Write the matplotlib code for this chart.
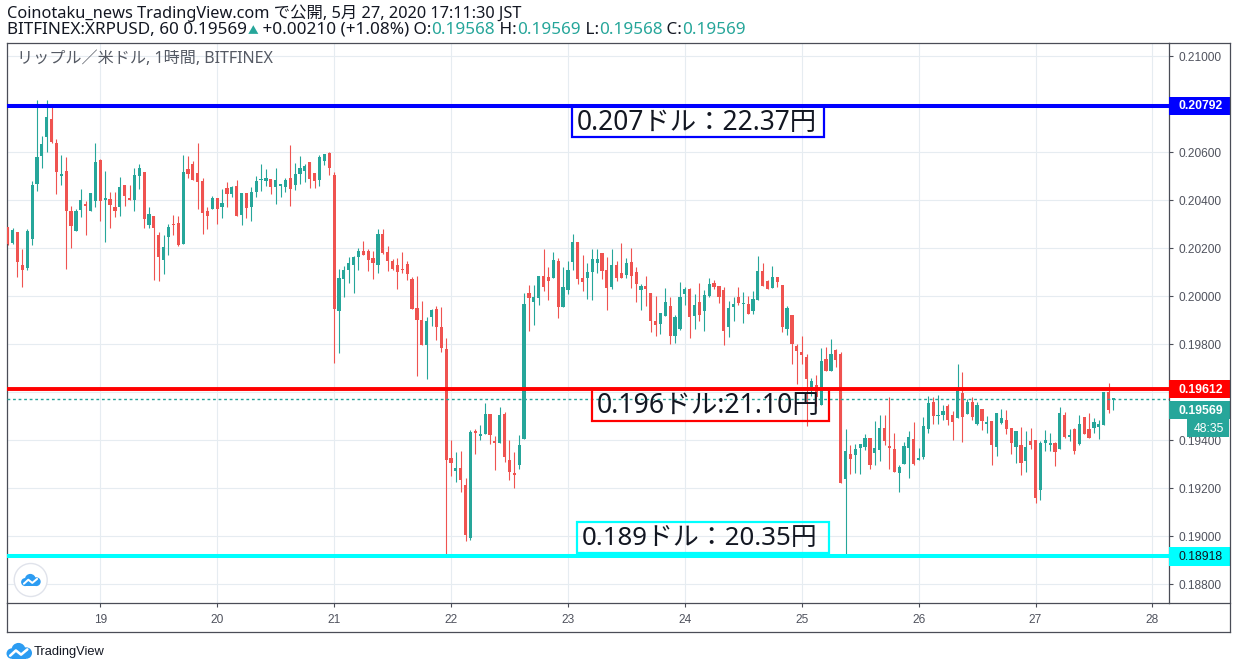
import numpy as np
import pandas as pd
import matplotlib
matplotlib.use("Agg")
import matplotlib.pyplot as plt
import matplotlib.dates as mdates
from matplotlib.patches import Rectangle, Circle

# ---------------- data (XRP/USD, Bitfinex, 1h) ----------------
start_time = "2020-05-18 05:00"

opens = [
    0.20289, 0.20222, 0.20268, 0.20131, 0.20118, 0.20236, 0.20467, 0.20582, 0.20661, 0.20739,
    0.20639, 0.20499, 0.20522, 0.20356, 0.20269, 0.20357, 0.20385, 0.20353, 0.20394, 0.20568,
    0.20401, 0.20406, 0.20372, 0.20369, 0.20464, 0.20410, 0.20399, 0.20499, 0.20518, 0.20294,
    0.20335, 0.20253, 0.20149, 0.20244, 0.20301, 0.20306, 0.20215, 0.20531, 0.20551, 0.20514,
    0.20481, 0.20356, 0.20361, 0.20410, 0.20369, 0.20451, 0.20424, 0.20460, 0.20336, 0.20431,
    0.20369, 0.20432, 0.20482, 0.20478, 0.20489, 0.20453, 0.20457, 0.20453, 0.20493, 0.20461,
    0.20507, 0.20519, 0.20560, 0.20514, 0.20482, 0.20564, 0.20597, 0.20506, 0.19936, 0.20069,
    0.20107, 0.20128, 0.20161, 0.20189, 0.20189, 0.20160, 0.20128, 0.20260, 0.20185, 0.20147,
    0.20131, 0.20114, 0.20135, 0.20072, 0.19951, 0.19901, 0.19797, 0.19911, 0.19947, 0.19872,
    0.19781, 0.19326, 0.19269, 0.19285, 0.19214, 0.18990, 0.19439, 0.19415, 0.19426, 0.19510,
    0.19397, 0.19386, 0.19510, 0.19318, 0.19261, 0.19294, 0.19406, 0.20014, 0.19974, 0.19993,
    0.20085, 0.20081, 0.20076, 0.20147, 0.19953, 0.20026, 0.20143, 0.20226, 0.20076, 0.20076,
    0.20099, 0.20136, 0.20181, 0.20110, 0.20037, 0.20131, 0.20097, 0.20089, 0.20143, 0.20101,
    0.20026, 0.20043, 0.20014, 0.19897, 0.19885, 0.19918, 0.19960, 0.19835, 0.19864, 0.20010,
    0.20031, 0.19918, 0.19976, 0.19939, 0.20001, 0.20056, 0.20043, 0.20026, 0.19872, 0.19956,
    0.19997, 0.19965, 0.19967, 0.19938, 0.19985, 0.20104, 0.20063, 0.20035, 0.20079, 0.20046,
    0.19862, 0.19921, 0.19792, 0.19767, 0.19746, 0.19622, 0.19631, 0.19547, 0.19737, 0.19689,
    0.19775, 0.19758, 0.19237, 0.19342, 0.19339, 0.19368, 0.19372, 0.19408, 0.19347, 0.19360,
    0.19450, 0.19375, 0.19362, 0.19264, 0.19301, 0.19368, 0.19404, 0.19318, 0.19328, 0.19446,
    0.19560, 0.19501, 0.19506, 0.19542, 0.19504, 0.19492, 0.19597, 0.19508, 0.19558, 0.19467,
    0.19529, 0.19468, 0.19479, 0.19371, 0.19471, 0.19483, 0.19450, 0.19371, 0.19379, 0.19313,
    0.19396, 0.19400, 0.19192, 0.19388, 0.19379, 0.19388, 0.19363, 0.19504, 0.19413, 0.19446,
    0.19383, 0.19496, 0.19446, 0.19450, 0.19454, 0.19463, 0.19600, 0.19568,
]
highs = [
    0.20289, 0.20283, 0.20268, 0.20197, 0.20281, 0.20481, 0.20818, 0.20665, 0.20818, 0.20790,
    0.20656, 0.20589, 0.20581, 0.20376, 0.20364, 0.20447, 0.20394, 0.20431, 0.20639, 0.20572,
    0.20522, 0.20432, 0.20432, 0.20497, 0.20464, 0.20464, 0.20535, 0.20550, 0.20518, 0.20372,
    0.20335, 0.20268, 0.20256, 0.20301, 0.20339, 0.20335, 0.20589, 0.20582, 0.20564, 0.20639,
    0.20493, 0.20372, 0.20415, 0.20410, 0.20447, 0.20476, 0.20460, 0.20485, 0.20431, 0.20431,
    0.20456, 0.20501, 0.20551, 0.20531, 0.20489, 0.20535, 0.20468, 0.20493, 0.20631, 0.20556,
    0.20585, 0.20551, 0.20560, 0.20514, 0.20589, 0.20593, 0.20601, 0.20518, 0.20112, 0.20126,
    0.20164, 0.20168, 0.20200, 0.20231, 0.20197, 0.20186, 0.20281, 0.20281, 0.20210, 0.20156,
    0.20160, 0.20185, 0.20147, 0.20081, 0.20085, 0.19981, 0.19914, 0.19947, 0.19960, 0.19953,
    0.19825, 0.19401, 0.19351, 0.19356, 0.19243, 0.19443, 0.19447, 0.19464, 0.19556, 0.19510,
    0.19418, 0.19539, 0.19518, 0.19401, 0.19351, 0.19422, 0.20014, 0.20047, 0.20047, 0.20085,
    0.20197, 0.20122, 0.20185, 0.20160, 0.20122, 0.20147, 0.20260, 0.20226, 0.20172, 0.20139,
    0.20197, 0.20197, 0.20181, 0.20164, 0.20197, 0.20147, 0.20222, 0.20160, 0.20201, 0.20122,
    0.20051, 0.20085, 0.20014, 0.20001, 0.19931, 0.20035, 0.19997, 0.19922, 0.20060, 0.20039,
    0.20035, 0.20010, 0.20056, 0.20026, 0.20076, 0.20068, 0.20043, 0.20039, 0.19981, 0.19997,
    0.20039, 0.20018, 0.20000, 0.20021, 0.20167, 0.20138, 0.20067, 0.20125, 0.20079, 0.20046,
    0.19958, 0.19921, 0.19800, 0.19833, 0.19758, 0.19658, 0.19672, 0.19783, 0.19787, 0.19821,
    0.19779, 0.19768, 0.19446, 0.19379, 0.19383, 0.19383, 0.19425, 0.19408, 0.19479, 0.19504,
    0.19504, 0.19579, 0.19429, 0.19296, 0.19393, 0.19438, 0.19475, 0.19367, 0.19496, 0.19583,
    0.19579, 0.19588, 0.19546, 0.19550, 0.19521, 0.19717, 0.19683, 0.19571, 0.19579, 0.19558,
    0.19529, 0.19500, 0.19479, 0.19513, 0.19529, 0.19525, 0.19450, 0.19438, 0.19454, 0.19438,
    0.19450, 0.19400, 0.19396, 0.19443, 0.19429, 0.19392, 0.19538, 0.19517, 0.19446, 0.19450,
    0.19504, 0.19496, 0.19513, 0.19492, 0.19483, 0.19600, 0.19638, 0.19569,
]
lows = [
    0.20214, 0.20218, 0.20081, 0.20036, 0.20107, 0.20211, 0.20439, 0.20532, 0.20599, 0.20636,
    0.20424, 0.20461, 0.20111, 0.20199, 0.20269, 0.20328, 0.20253, 0.20353, 0.20369, 0.20311,
    0.20224, 0.20282, 0.20328, 0.20332, 0.20374, 0.20401, 0.20353, 0.20447, 0.20282, 0.20282,
    0.20065, 0.20061, 0.20090, 0.20169, 0.20253, 0.20207, 0.20215, 0.20493, 0.20482, 0.20361,
    0.20258, 0.20278, 0.20361, 0.20299, 0.20324, 0.20369, 0.20411, 0.20332, 0.20294, 0.20324,
    0.20311, 0.20411, 0.20436, 0.20458, 0.20424, 0.20382, 0.20411, 0.20432, 0.20374, 0.20440,
    0.20465, 0.20474, 0.20449, 0.20449, 0.20457, 0.20544, 0.20503, 0.19719, 0.19761, 0.19994,
    0.20053, 0.20011, 0.20107, 0.20171, 0.20103, 0.20069, 0.20094, 0.20176, 0.20103, 0.20107,
    0.20028, 0.20094, 0.20065, 0.19944, 0.19665, 0.19794, 0.19653, 0.19874, 0.19815, 0.19765,
    0.18922, 0.19249, 0.19224, 0.19182, 0.18978, 0.18982, 0.19340, 0.19399, 0.19426, 0.19385,
    0.19276, 0.19386, 0.19310, 0.19235, 0.19201, 0.19278, 0.19406, 0.19856, 0.19881, 0.19964,
    0.20019, 0.19985, 0.20076, 0.19910, 0.19953, 0.20010, 0.20110, 0.20051, 0.20022, 0.19989,
    0.19985, 0.20097, 0.20072, 0.19943, 0.20031, 0.20064, 0.20076, 0.20076, 0.20035, 0.19976,
    0.19943, 0.19960, 0.19851, 0.19835, 0.19843, 0.19918, 0.19801, 0.19806, 0.19860, 0.19964,
    0.19826, 0.19864, 0.19897, 0.19856, 0.19997, 0.20031, 0.19972, 0.19794, 0.19831, 0.19897,
    0.19964, 0.19889, 0.19925, 0.19925, 0.19985, 0.20043, 0.20031, 0.20035, 0.20039, 0.19851,
    0.19838, 0.19718, 0.19635, 0.19718, 0.19460, 0.19585, 0.19543, 0.19547, 0.19689, 0.19689,
    0.19706, 0.19222, 0.18921, 0.19260, 0.19262, 0.19258, 0.19360, 0.19281, 0.19296, 0.19314,
    0.19381, 0.19281, 0.19268, 0.19185, 0.19301, 0.19243, 0.19296, 0.19318, 0.19319, 0.19429,
    0.19467, 0.19467, 0.19483, 0.19463, 0.19400, 0.19492, 0.19392, 0.19508, 0.19483, 0.19463,
    0.19442, 0.19429, 0.19296, 0.19333, 0.19467, 0.19425, 0.19342, 0.19306, 0.19254, 0.19267,
    0.19363, 0.19138, 0.19150, 0.19354, 0.19354, 0.19292, 0.19363, 0.19408, 0.19396, 0.19342,
    0.19379, 0.19425, 0.19408, 0.19429, 0.19404, 0.19463, 0.19513, 0.19527,
]
closes = [
    0.20217, 0.20276, 0.20140, 0.20107, 0.20272, 0.20464, 0.20581, 0.20635, 0.20747, 0.20640,
    0.20515, 0.20510, 0.20353, 0.20290, 0.20356, 0.20400, 0.20374, 0.20431, 0.20560, 0.20394,
    0.20408, 0.20378, 0.20356, 0.20456, 0.20415, 0.20401, 0.20506, 0.20535, 0.20319, 0.20343,
    0.20282, 0.20161, 0.20206, 0.20289, 0.20294, 0.20212, 0.20517, 0.20507, 0.20485, 0.20474,
    0.20344, 0.20332, 0.20410, 0.20361, 0.20389, 0.20424, 0.20456, 0.20332, 0.20431, 0.20365,
    0.20435, 0.20481, 0.20489, 0.20493, 0.20456, 0.20485, 0.20468, 0.20485, 0.20444, 0.20510,
    0.20535, 0.20543, 0.20486, 0.20478, 0.20581, 0.20593, 0.20532, 0.19944, 0.20075, 0.20110,
    0.20139, 0.20164, 0.20189, 0.20171, 0.20149, 0.20136, 0.20260, 0.20179, 0.20144, 0.20111,
    0.20100, 0.20107, 0.20090, 0.19944, 0.19899, 0.19797, 0.19897, 0.19943, 0.19869, 0.19782,
    0.19315, 0.19303, 0.19285, 0.19232, 0.19003, 0.19435, 0.19431, 0.19426, 0.19510, 0.19419,
    0.19386, 0.19506, 0.19331, 0.19268, 0.19253, 0.19381, 0.19968, 0.19990, 0.19997, 0.20085,
    0.20036, 0.20061, 0.20151, 0.19953, 0.20039, 0.20110, 0.20226, 0.20072, 0.20060, 0.20101,
    0.20156, 0.20156, 0.20106, 0.20035, 0.20131, 0.20076, 0.20076, 0.20139, 0.20085, 0.20051,
    0.20043, 0.20031, 0.19897, 0.19881, 0.19931, 0.19976, 0.19835, 0.19914, 0.19997, 0.20031,
    0.19914, 0.19964, 0.19922, 0.20006, 0.20051, 0.20039, 0.19997, 0.19856, 0.19951, 0.19968,
    0.19972, 0.19968, 0.19925, 0.19988, 0.20104, 0.20043, 0.20031, 0.20079, 0.20060, 0.19872,
    0.19950, 0.19800, 0.19771, 0.19754, 0.19656, 0.19647, 0.19581, 0.19729, 0.19689, 0.19758,
    0.19733, 0.19222, 0.19354, 0.19319, 0.19362, 0.19383, 0.19408, 0.19296, 0.19367, 0.19450,
    0.19397, 0.19368, 0.19268, 0.19287, 0.19375, 0.19412, 0.19301, 0.19325, 0.19458, 0.19554,
    0.19501, 0.19504, 0.19521, 0.19483, 0.19475, 0.19604, 0.19496, 0.19558, 0.19496, 0.19546,
    0.19479, 0.19471, 0.19379, 0.19513, 0.19492, 0.19446, 0.19388, 0.19438, 0.19304, 0.19371,
    0.19379, 0.19158, 0.19388, 0.19400, 0.19388, 0.19350, 0.19513, 0.19413, 0.19421, 0.19354,
    0.19467, 0.19425, 0.19408, 0.19475, 0.19467, 0.19600, 0.19525, 0.19569,
]

blue_level = 0.20792
red_level = 0.19612
cyan_level = 0.18918
last_price = 0.19569

price_ticks = [0.188, 0.190, 0.192, 0.194, 0.196, 0.198, 0.200, 0.202, 0.204, 0.206, 0.208, 0.210]
hidden_price_ticks = [0.196, 0.208]
day_ticks = [19, 20, 21, 22, 23, 24, 25, 26, 27, 28]

title_line1 = "Coinotaku_news TradingView.com で公開, 5月 27, 2020 17:11:30 JST"
symbol_text = "BITFINEX:XRPUSD, 60 0.19569"
change_text = " +0.00210 (+1.08%)"
ohlc_text = [("O:", "0.19568"), ("H:", "0.19569"), ("L:", "0.19568"), ("C:", "0.19569")]
legend_text = "リップル／米ドル, 1時間, BITFINEX"
box_texts = ["0.207ドル：22.37円", "0.196ドル:21.10円", "0.189ドル：20.35円"]
countdown = "48:35"

# ---------------- style ----------------
GREEN = "#26A69A"
RED = "#EF5350"
GRID = "#E6ECF1"
AXIS = "#4A4D57"
TXT = "#50535E"
FAM = ["Noto Sans", "Noto Sans CJK JP", "DejaVu Sans"]
NUMFAM = ["Liberation Sans", "DejaVu Sans"]

W, H = 1236, 669
fig = plt.figure(figsize=(W / 100, H / 100), dpi=100)
fig.patch.set_facecolor("white")

L_PX, R_PX, T_PX, B_PX = 6.7, 1169.3, 43.0, 603.3
ax = fig.add_axes([L_PX / W, 1 - B_PX / H, (R_PX - L_PX) / W, (B_PX - T_PX) / H])
ax.set_facecolor("white")

times = pd.date_range(start_time, periods=len(opens), freq="h")
t = mdates.date2num(times.to_pydatetime())
o = np.array(opens); hi = np.array(highs); lo = np.array(lows); c = np.array(closes)
up = c >= o
cols = np.where(up, GREEN, RED)

ax.vlines(t, lo, hi, colors=cols, linewidth=0.8, zorder=2)
body_bottom = np.minimum(o, c)
body_h = np.maximum(np.abs(c - o), 0.00005)
ax.bar(t, body_h, width=3.2 / 116.9, bottom=body_bottom, color=cols, linewidth=0, zorder=3)

x_left = mdates.date2num(pd.Timestamp("2020-05-18 04:47").to_pydatetime())
x_right = mdates.date2num(pd.Timestamp("2020-05-28 03:28").to_pydatetime())
ax.set_xlim(x_left, x_right)
ax.set_ylim(0.187196, 0.210542)

day_pos = [mdates.date2num(pd.Timestamp(f"2020-05-{d:02d}").to_pydatetime()) for d in day_ticks]
ax.set_xticks(day_pos)
ax.set_xticklabels([str(d) for d in day_ticks])
ax.set_yticks(price_ticks)
ax.set_yticklabels(["" if p in hidden_price_ticks else f"{p:.5f}" for p in price_ticks])
ax.yaxis.tick_right()
ax.tick_params(axis="y", direction="out", length=3, width=0.8, color=AXIS, labelcolor=TXT,
               labelsize=8.6, pad=3.5)
ax.tick_params(axis="x", direction="out", length=3, width=0.8, color=AXIS, labelcolor=TXT,
               labelsize=8.6, pad=5)
for lab in ax.get_xticklabels() + ax.get_yticklabels():
    lab.set_fontfamily(NUMFAM)
ax.grid(True, color=GRID, linewidth=0.8, zorder=0)
ax.set_axisbelow(True)
for s in ax.spines.values():
    s.set_color(AXIS)
    s.set_linewidth(0.9)

ax.axhline(last_price, color=GREEN, lw=1.0, ls=(0, (2, 2)), zorder=4)
ax.axhline(blue_level, color="#0000FF", lw=2.9, zorder=5)
ax.axhline(red_level, color="#FF0000", lw=2.8, zorder=5)
ax.axhline(cyan_level, color="#00FFFF", lw=2.9, zorder=5)

# ---------------- overlay in pixel coordinates ----------------
ov = fig.add_axes([0, 0, 1, 1], zorder=10)
ov.set_xlim(0, W); ov.set_ylim(H, 0); ov.axis("off"); ov.patch.set_alpha(0)
renderer = fig.canvas.get_renderer()


def py(price):
    return H - ax.transData.transform((t[0], price))[1]


def fit_text(x, y, s, target_w, fs0, **kw):
    tt = ov.text(x, y, s, fontsize=fs0, **kw)
    w = tt.get_window_extent(renderer).width
    tt.set_fontsize(fs0 * target_w / w)
    return tt


# frame pieces outside the plot area
ov.plot([R_PX, 1230], [T_PX, T_PX], color=AXIS, lw=0.9)
ov.plot([1230, 1230], [T_PX, 632], color=AXIS, lw=0.9)
ov.plot([L_PX, 1230], [632, 632], color=AXIS, lw=0.9)
ov.plot([L_PX, L_PX], [B_PX, 632], color=AXIS, lw=0.9)
ov.plot([R_PX, 1230], [B_PX, B_PX], color=AXIS, lw=0.9)

# header line 1
fit_text(7.3, 18.5, title_line1, 514, 10.0, family=FAM, color="#131722", va="baseline")

# header line 2 (multi-coloured), scaled to the reference extent
pieces = [(symbol_text, "#131722", 1.0), ("▲", GREEN, 0.62), (change_text, "#131722", 1.0)]
for lab, val in ohlc_text:
    pieces.append((" " + lab, "#131722", 1.0))
    pieces.append((val, GREEN, 1.0))


def draw_line2(fs, y):
    arts = []
    x = 7.3
    for s_, col, k in pieces:
        tt = ov.text(x, y, s_, fontsize=fs * k, color=col, family=FAM, va="baseline")
        x += tt.get_window_extent(renderer).width
        arts.append(tt)
    return arts, x


arts, xend = draw_line2(10.0, 34.0)
for a in arts:
    a.remove()
fs2 = 10.0 * (745 - 7.3) / (xend - 7.3)
draw_line2(fs2, 34.0)

# legend in chart
fit_text(17, 63, legend_text, 256, 10.5, family=FAM, color="#555A64", va="baseline")

# annotation boxes
boxes = [((572, 106, 252, 31), "#0000FF", 241), ((592, 389, 237, 32), "#FF0000", 224),
         ((577, 522, 252, 31), "#00FFFF", 236)]
for (bx, by, bw, bh), col, tw in boxes:
    ov.add_patch(Rectangle((bx, by), bw, bh, fill=False, ec=col, lw=1.6))
for ((bx, by, bw, bh), col, tw), s_ in zip(boxes, box_texts):
    fit_text(bx + 5, by + bh / 2 + 1, s_, tw, 16, family=FAM, color="#131722", va="center")


# right-hand price labels
def price_label(yc, text, fc, tc, weight="bold", x0=R_PX, x1=1229.5, h=18.5):
    ov.add_patch(Rectangle((x0, yc - h / 2), x1 - x0, h, fc=fc, ec="none"))
    ov.text((x0 + x1) / 2 + 1, yc + 0.5, text, color=tc, ha="center", va="center",
            fontsize=8.8, fontweight=weight, family=NUMFAM)


price_label(py(blue_level), f"{blue_level:.5f}", "#0000FF", "white")
price_label(py(red_level), f"{red_level:.5f}", "#FF0000", "white")
price_label(py(last_price) + 10.6, f"{last_price:.5f}", GREEN, "white")
price_label(py(cyan_level) + 1, f"{cyan_level:.5f}", "#00FFFF", "#131722", weight="normal")
price_label(428, countdown, GREEN, "white", weight="normal", x0=1187, x1=1228.5, h=17.5)


# logos
def cloud(cx, cy, s, color="#2C9CF2"):
    for (dx, dy, r) in [(-0.28, 0.08, 0.2), (-0.02, -0.06, 0.27), (0.28, 0.06, 0.22)]:
        ov.add_patch(Circle((cx + dx * s, cy + dy * s), r * s, color=color, lw=0))
    ov.add_patch(Rectangle((cx - 0.28 * s, cy + 0.06 * s), 0.56 * s, 0.22 * s, color=color, lw=0))
    ov.plot([cx - 0.34 * s, cx - 0.12 * s, cx + 0.08 * s, cx + 0.32 * s],
            [cy + 0.16 * s, cy - 0.04 * s, cy + 0.12 * s, cy - 0.08 * s],
            color="white", lw=max(1.0, s / 14), solid_capstyle="round")


ov.add_patch(Circle((30.7, 580), 16.5, fc="white", ec="#E0E3EB", lw=1.0))
cloud(30.7, 580.5, 20)
cloud(19, 651.5, 26)
fit_text(34, 655, "TradingView", 71, 10, family=NUMFAM, color="#131722", va="baseline")

fig.savefig("out.png", dpi=100, facecolor="white")
